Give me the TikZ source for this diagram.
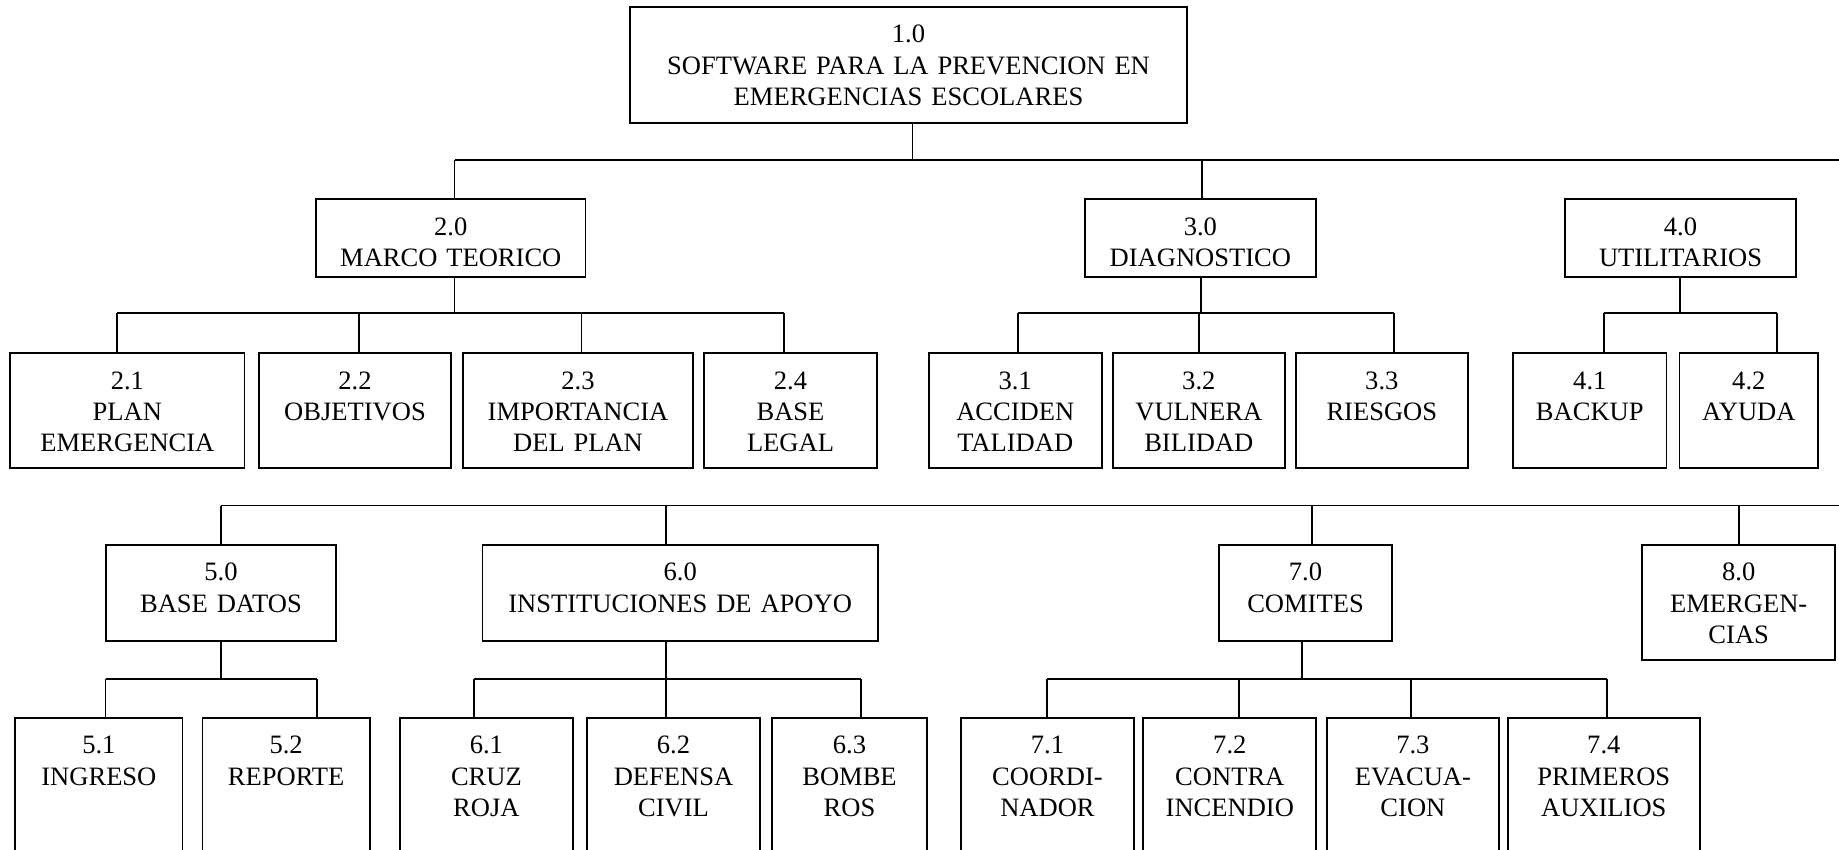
\documentclass[tikz,border=0pt]{standalone}
\usepackage{fontspec}
\setmainfont{Liberation Serif}
\tikzset{
  box/.style={draw, align=center, anchor=north, inner xsep=2pt, inner ysep=6pt,
    minimum width=#1, text width=#1-4pt, text height=10.2pt,
    font=\fontsize{12}{14.2}\selectfont},
  topbox/.style={text depth=30.2pt},
  headbox/.style={text depth=13.1pt},
  subbox/.style={text depth=29.8pt},
  groupbox/.style={text depth=21.2pt},
  leafbox/.style={text depth=50pt}
}
\begin{document}
\begin{tikzpicture}[x=0.452pt, y=-0.452pt, line width=0.8pt]
        \useasboundingbox (0,0) rectangle (1839,849);

        \node[box=251.8pt, topbox] (b10) at (908.5,6) {1.0\\SOFTWARE PARA LA PREVENCION EN\\EMERGENCIAS ESCOLARES};

        \node[box=121.8pt, headbox] (b20) at (450.8,198.3) {2.0\\MARCO TEORICO};
        \node[box=104.3pt, headbox] (b30) at (1200.4,198.3) {3.0\\DIAGNOSTICO};
        \node[box=104.4pt, headbox] (b40) at (1680.5,198.3) {4.0\\UTILITARIOS};

        \node[box=105.9pt, subbox] (b21) at (127.4,352.3) {2.1\\PLAN\\EMERGENCIA};
        \node[box=86.8pt, subbox] (b22) at (355,352.3) {2.2\\OBJETIVOS};
        \node[box=104.2pt, subbox] (b23) at (578,352.3) {2.3\\IMPORTANCIA\\DEL PLAN};
        \node[box=78.2pt, subbox] (b24) at (790.5,352.3) {2.4\\BASE\\LEGAL};
        \node[box=78.2pt, subbox] (b31) at (1015.3,352.3) {3.1\\ACCIDEN\\TALIDAD};
        \node[box=77.9pt, subbox] (b32) at (1198.8,352.3) {3.2\\VULNERA\\BILIDAD};
        \node[box=77.7pt, subbox] (b33) at (1381.8,352.3) {3.3\\RIESGOS};
        \node[box=69.4pt, subbox] (b41) at (1589.8,352.3) {4.1\\BACKUP};
        \node[box=62.6pt, subbox] (b42) at (1748.8,352.3) {4.2\\AYUDA};

        \node[box=104.3pt, groupbox] (b50) at (221,544.2) {5.0\\BASE DATOS};
        \node[box=178.8pt, groupbox] (b60) at (680.2,544.2) {6.0\\INSTITUCIONES DE APOYO};
        \node[box=78.2pt, groupbox] (b70) at (1305.5,544.2) {7.0\\COMITES};
        \node[box=87.1pt, subbox] (b80) at (1738.7,544.2) {8.0\\EMERGEN-\\CIAS};

        \node[box=75.6pt, leafbox] (b51) at (98.9,717.2) {5.1\\INGRESO};
        \node[box=75.6pt, leafbox] (b52) at (286.1,717.2) {5.2\\REPORTE};
        \node[box=78.1pt, leafbox] (b61) at (486.4,717.2) {6.1\\CRUZ\\ROJA};
        \node[box=78.2pt, leafbox] (b62) at (673.5,717.2) {6.2\\DEFENSA\\CIVIL};
        \node[box=69.8pt, leafbox] (b63) at (849.5,717.2) {6.3\\BOMBE\\ROS};
        \node[box=78.2pt, leafbox] (b71) at (1047.5,717.2) {7.1\\COORDI-\\NADOR};
        \node[box=78.2pt, leafbox] (b72) at (1229.8,717.2) {7.2\\CONTRA\\INCENDIO};
        \node[box=77.8pt, leafbox] (b73) at (1412.9,717.2) {7.3\\EVACUA-\\CION};
        \node[box=86.6pt, leafbox] (b74) at (1603.8,717.2) {7.4\\PRIMEROS\\AUXILIOS};

        \coordinate (k10) at (912.5,160);
        \coordinate (j20) at (454.6,160);
        \coordinate (j30) at (1201.7,160);
        \coordinate (e1) at (1839,160);
        \coordinate (k20) at (454.6,313.3);
        \coordinate (j21) at (117,313.3);
        \coordinate (j22) at (358.8,313.3);
        \coordinate (j23) at (581.5,313.3);
        \coordinate (j24) at (784,313.3);
        \coordinate (k30) at (1200.7,313.3);
        \coordinate (j31) at (1018,313.3);
        \coordinate (j32) at (1199,313.3);
        \coordinate (j33) at (1394,313.3);
        \coordinate (k40) at (1680,313.3);
        \coordinate (j41) at (1603.6,313.3);
        \coordinate (j42) at (1776.6,313.3);
        \coordinate (j50) at (221.2,505.5);
        \coordinate (j60) at (666,505.5);
        \coordinate (j70) at (1312,505.5);
        \coordinate (j80) at (1738.7,505.5);
        \coordinate (e2) at (1839,505.5);
        \coordinate (k50) at (221,679);
        \coordinate (j51) at (105.6,679);
        \coordinate (j52) at (317,679);
        \coordinate (k60) at (666,679);
        \coordinate (j61) at (474,679);
        \coordinate (j62) at (666,679);
        \coordinate (j63) at (861,679);
        \coordinate (k70) at (1301.6,679);
        \coordinate (j71) at (1046.6,679);
        \coordinate (j72) at (1238.9,679);
        \coordinate (j73) at (1411.2,679);
        \coordinate (j74) at (1607,679);

        \draw (b10.south -| k10) -- (k10);
        \draw (j20) -- (e1);
        \draw (j20) -- (b20.north -| j20);
        \draw (j30) -- (b30.north -| j30);

        \draw (b20.south -| k20) -- (k20);
        \draw (j21) -- (j24);
        \draw (j21) -- (b21.north -| j21);
        \draw (j22) -- (b22.north -| j22);
        \draw (j23) -- (b23.north -| j23);
        \draw (j24) -- (b24.north -| j24);

        \draw (b30.south -| k30) -- (k30);
        \draw (j31) -- (j33);
        \draw (j31) -- (b31.north -| j31);
        \draw (j32) -- (b32.north -| j32);
        \draw (j33) -- (b33.north -| j33);

        \draw (b40.south -| k40) -- (k40);
        \draw (j41) -- (j42);
        \draw (j41) -- (b41.north -| j41);
        \draw (j42) -- (b42.north -| j42);

        \draw (j50) -- (e2);
        \draw (j50) -- (b50.north -| j50);
        \draw (j60) -- (b60.north -| j60);
        \draw (j70) -- (b70.north -| j70);
        \draw (j80) -- (b80.north -| j80);

        \draw (b50.south -| k50) -- (k50);
        \draw (j51) -- (j52);
        \draw (j51) -- (b51.north -| j51);
        \draw (j52) -- (b52.north -| j52);

        \draw (b60.south -| k60) -- (k60);
        \draw (j61) -- (j63);
        \draw (j61) -- (b61.north -| j61);
        \draw (j62) -- (b62.north -| j62);
        \draw (j63) -- (b63.north -| j63);

        \draw (b70.south -| k70) -- (k70);
        \draw (j71) -- (j74);
        \draw (j71) -- (b71.north -| j71);
        \draw (j72) -- (b72.north -| j72);
        \draw (j73) -- (b73.north -| j73);
        \draw (j74) -- (b74.north -| j74);
    \end{tikzpicture}
\end{document}
